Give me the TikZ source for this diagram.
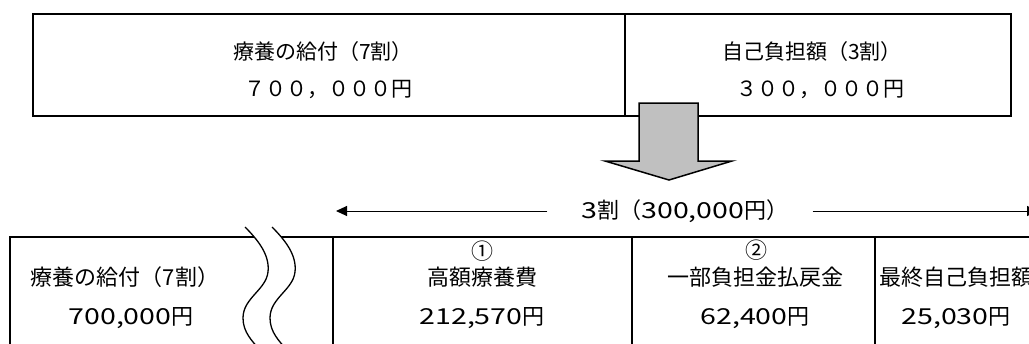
\documentclass[tikz,border=0pt]{standalone}
\usepackage{fontspec}
\usepackage{graphicx}
\newfontfamily\jp{Noto Sans CJK JP}
\usetikzlibrary{arrows.meta}
\definecolor{arrowgray}{RGB}{192,192,192}
\newcommand\dg[1]{\scalebox{1.3}[1]{#1}}
\begin{document}
\begin{tikzpicture}[x=1pt,y=-1pt,
  box/.style={line width=2pt},
  txt/.style={font=\jp\fontsize{21}{24}\selectfont, inner sep=0pt},
  txtb/.style={font=\jp\fontsize{22}{24}\selectfont, inner sep=0pt},
  circ/.style={font=\jp\fontsize{22}{24}\selectfont, inner sep=0pt},
  wave/.style={line width=1.3pt},
  dimline/.style={line width=1pt},
  bigarrow/.style={fill=arrowgray, draw=black, line width=1.5pt, line join=miter},
]
\useasboundingbox (0,0) rectangle (1029,343);
\clip (0,0) rectangle (1029,343);

% top box
\draw[box] (33,14) rectangle (1011,116);
\draw[box] (625,14) -- (625,116);
\node[txt] (t1a) at (323,52) {療養の給付（7割）};
\node[txt] (t1b) at (328,90) {７００，０００円};
\node[txt] (t2a) at (812,52) {自己負担額（3割）};
\node[txt] (t2b) at (820,90) {３００，０００円};

% big gray arrow
\draw[bigarrow] (639,103) -- (698,103) -- (698,161) -- (732,161) -- (669,180) -- (605,161) -- (639,161) -- cycle;

% dimension line
\node[txtb] (dim) at (685,211) {\dg{3}割（\dg{300,000}円）};
\coordinate (L) at (336,211);
\coordinate (R) at (1038,211);
\draw[dimline,-{Triangle[length=11pt,width=10pt]}] ([xshift=-34pt]dim.west) -- (L);
\draw[dimline,-{Triangle[length=11pt,width=10pt]}] ([xshift=24pt]dim.east) -- (R);

% bottom boxes
\draw[box] (10,360) -- (10,237) -- (1045,237);
\draw[box] (333,237) -- (333,360);
\draw[box] (632,237) -- (632,360);
\draw[box] (875,237) -- (875,360);

% break (wavy lines)
\fill[white] (245,227) .. controls (258,240) and (270,255) .. (268,272)
  .. controls (266,290) and (243,298) .. (243,318)
  .. controls (243,332) and (252,341) .. (260,350)
  -- (287,350) .. controls (279,341) and (270,332) .. (270,318)
  .. controls (270,298) and (293,290) .. (295,272)
  .. controls (297,255) and (285,240) .. (272,227) -- cycle;
\draw[wave] (245,227) .. controls (258,240) and (270,255) .. (268,272)
  .. controls (266,290) and (243,298) .. (243,318)
  .. controls (243,332) and (252,341) .. (260,350);
\draw[wave] (272,227) .. controls (285,240) and (297,255) .. (295,272)
  .. controls (293,290) and (270,298) .. (270,318)
  .. controls (270,332) and (279,341) .. (287,350);

% bottom texts
\node[txtb] (b1a) at (125,277) {療養の給付（7割）};
\node[txtb] (b1b) at (131,318) {\dg{700,000}円};
\node[circ] (b2n) at (482,251) {①};
\node[txtb] (b2a) at (482,277) {高額療養費};
\node[txtb] (b2b) at (482,318) {\dg{212,570}円};
\node[circ] (b3n) at (756,250) {②};
\node[txtb] (b3a) at (755,277) {一部負担金払戻金};
\node[txtb] (b3b) at (755,318) {\dg{62,400}円};
\node[txtb] (b4a) at (956,277) {最終自己負担額};
\node[txtb] (b4b) at (956,318) {\dg{25,030}円};
\end{tikzpicture}
\end{document}
